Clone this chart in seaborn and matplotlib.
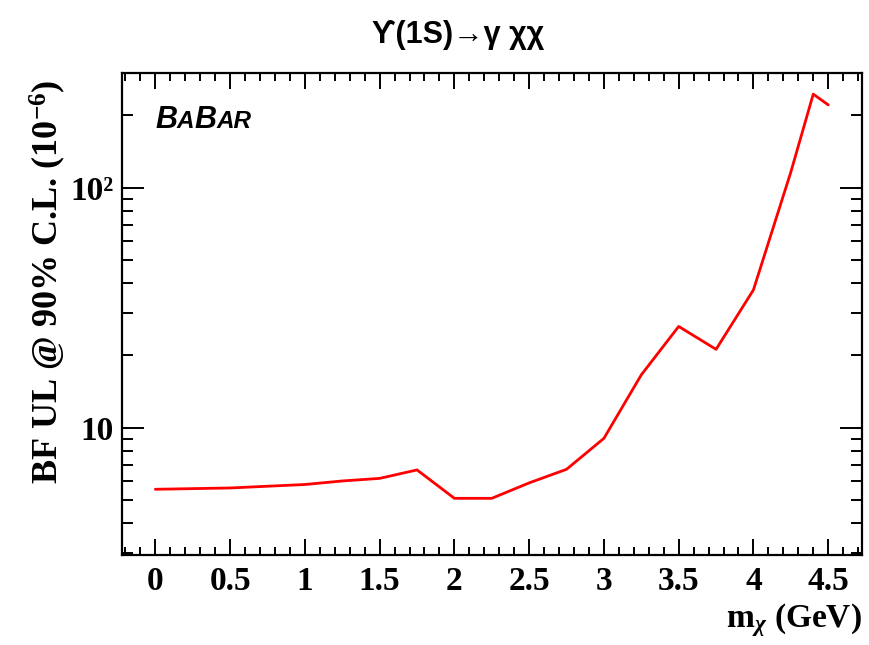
import matplotlib
matplotlib.use("Agg")
import matplotlib.pyplot as plt
import matplotlib.ticker as mticker
import seaborn as sns
import pandas as pd

# Upper limit on the branching fraction vs. dark-matter candidate mass
mass_gev = [0.0, 0.5, 1.0, 1.25, 1.5, 1.75, 2.0, 2.25, 2.5, 2.75,
            3.0, 3.25, 3.5, 3.75, 4.0, 4.25, 4.4, 4.5]
bf_ul = [5.54, 5.61, 5.80, 6.00, 6.15, 6.67, 5.08, 5.08, 5.89, 6.71,
         9.03, 16.6, 26.4, 21.2, 37.5, 116.0, 245.0, 221.0]

x_ticks = [0, 0.5, 1, 1.5, 2, 2.5, 3, 3.5, 4, 4.5]
x_tick_labels = ["0", "0.5", "1", "1.5", "2", "2.5", "3", "3.5", "4", "4.5"]
y_ticks = [10, 100]
y_tick_labels = ["10", "10²"]

df = pd.DataFrame({"m": mass_gev, "ul": bf_ul})

sns.set_style("ticks")
plt.rcParams["font.family"] = ["Liberation Serif", "DejaVu Serif"]
plt.rcParams["text.color"] = "black"
plt.rcParams["axes.labelcolor"] = "black"
plt.rcParams["xtick.color"] = "black"
plt.rcParams["ytick.color"] = "black"
plt.rcParams["mathtext.fontset"] = "custom"
plt.rcParams["mathtext.rm"] = "Liberation Serif:bold"
plt.rcParams["mathtext.it"] = "Liberation Serif:italic:bold"
plt.rcParams["mathtext.bf"] = "Liberation Serif:bold"

fig = plt.figure(figsize=(8.7, 6.45), dpi=100)
W, H = 870, 645
ax = fig.add_axes([122 / W, 1 - 555 / H, 740 / W, 482 / H])

sns.lineplot(data=df, x="m", y="ul", ax=ax, color="#ff0000", linewidth=2.0,
             sort=False, estimator=None)

ax.set_yscale("log")
ax.set_xlim(-0.223, 4.726)
ax.set_ylim(2.95, 300)

ax.set_xticks(x_ticks)
ax.set_xticklabels(x_tick_labels)
ax.xaxis.set_minor_locator(mticker.MultipleLocator(0.1))
ax.yaxis.set_major_locator(mticker.FixedLocator(y_ticks))
ax.yaxis.set_major_formatter(mticker.FixedFormatter(y_tick_labels))
ax.yaxis.set_minor_locator(mticker.LogLocator(base=10, subs=range(2, 10), numticks=20))
ax.yaxis.set_minor_formatter(mticker.NullFormatter())

for lab in ax.get_xticklabels() + ax.get_yticklabels():
    lab.set_fontfamily("Liberation Serif")
    lab.set_fontweight("bold")
    lab.set_fontsize(24)
    lab.set_color("black")

ax.tick_params(axis="both", which="both", direction="in", top=True, right=True,
               color="black", width=1.4)
ax.tick_params(axis="x", which="major", length=11.5, pad=8)
ax.tick_params(axis="x", which="minor", length=6)
ax.tick_params(axis="y", which="major", length=16, pad=6)
ax.tick_params(axis="y", which="minor", length=8)

for sp in ax.spines.values():
    sp.set_visible(True)
    sp.set_linewidth(1.6)
    sp.set_color("black")

ax.set_xlabel("")
ax.set_ylabel("")

# Axis titles
fig.text(48 / W, 1 - 282 / H, r"BF UL @ 90% C.L. (10$^{-6}$)", rotation=90,
         ha="center", va="center", fontsize=26, fontweight="bold",
         family="Liberation Serif", color="black")
fig.text(862 / W, 1 - 620 / H, r"m$_{\chi}$ (GeV)", ha="right", va="center",
         fontsize=24, fontweight="bold", family="Liberation Serif", color="black")

# Plot title
fig.text(458 / W, 1 - 35 / H, "ϒ(1S)→γ χχ", ha="center", va="center",
         fontsize=22, fontweight="bold", family=["Liberation Sans", "DejaVu Sans"],
         color="black")

# Experiment tag written in small caps, piece by piece
renderer = fig.canvas.get_renderer()
x_px, base_px = 155.0, 128.0
for piece, size in [("B", 22), ("A", 17.5), ("B", 22), ("AR", 17.5)]:
    t = fig.text(x_px / W, 1 - base_px / H, piece, ha="left", va="baseline",
                 fontsize=size, fontweight="bold", fontstyle="italic",
                 family="Liberation Sans", color="black")
    bb = t.get_window_extent(renderer=renderer)
    x_px += bb.width

fig.savefig("out.png", dpi=100)
